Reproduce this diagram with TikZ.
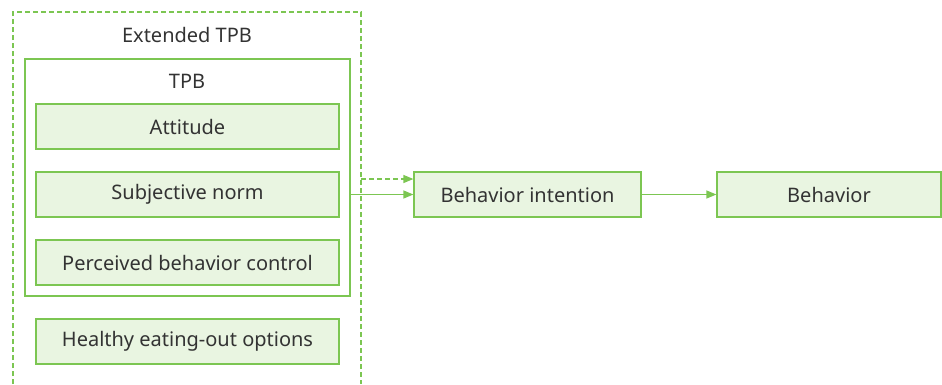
\documentclass[tikz,border=0pt]{standalone}
\usepackage{fontspec}
\setmainfont{Noto Sans}
\usetikzlibrary{arrows.meta}
\definecolor{gline}{HTML}{7CC652}
\definecolor{gfill}{HTML}{E9F5E1}
\definecolor{txt}{HTML}{333333}
\begin{document}
\begin{tikzpicture}[x=1pt,y=-1pt,
  every node/.style={text=txt,font=\fontsize{20}{24}\selectfont},
  gbox/.style={draw=gline,fill=gfill,line width=1.2pt},
  frame/.style={draw=gline,line width=1.2pt},
  conn/.style={draw=gline,line width=1.2pt,-{Triangle[length=10pt,width=8pt]}}]
\useasboundingbox (0,0) rectangle (942,384);
% extended TPB dashed frame (open bottom)
\draw[gline,line width=1.1pt,dash pattern=on 5pt off 3pt] (13,384) -- (13,12) -- (361,12) -- (361,384);
\coordinate (extR) at (361,179);
\node (ext) at (187,35) {Extended TPB};
% TPB frame
\node[frame,minimum width=325pt,minimum height=237pt,inner sep=0pt] (tpbbox) at (187.5,177.5) {};
\node (tpb) at (187,81) {TPB};
\node[gbox,minimum width=303pt,minimum height=45pt,inner sep=0pt] (att) at (187.5,126.5) {Attitude};
\node[gbox,minimum width=303pt,minimum height=45pt,inner sep=0pt] (sn) at (187.5,194.5) {Subjective norm};
\node[gbox,minimum width=303pt,minimum height=45pt,inner sep=0pt] (pbc) at (187.5,262.5) {Perceived behavior control};
\node[gbox,minimum width=303pt,minimum height=45pt,inner sep=0pt] (heo) at (187.5,341.5) {Healthy eating-out options};
\node[gbox,minimum width=227pt,minimum height=45pt,inner sep=0pt] (bi) at (527.5,194.5) {Behavior intention};
\node[gbox,minimum width=224pt,minimum height=45pt,inner sep=0pt] (beh) at (829,194.5) {Behavior};
% connectors
\draw[conn,dash pattern=on 5pt off 3pt] (extR) -- (extR -| bi.west);
\draw[conn] (tpbbox.east |- bi.west) -- (bi.west);
\draw[conn] (bi) -- (beh);
\end{tikzpicture}
\end{document}
